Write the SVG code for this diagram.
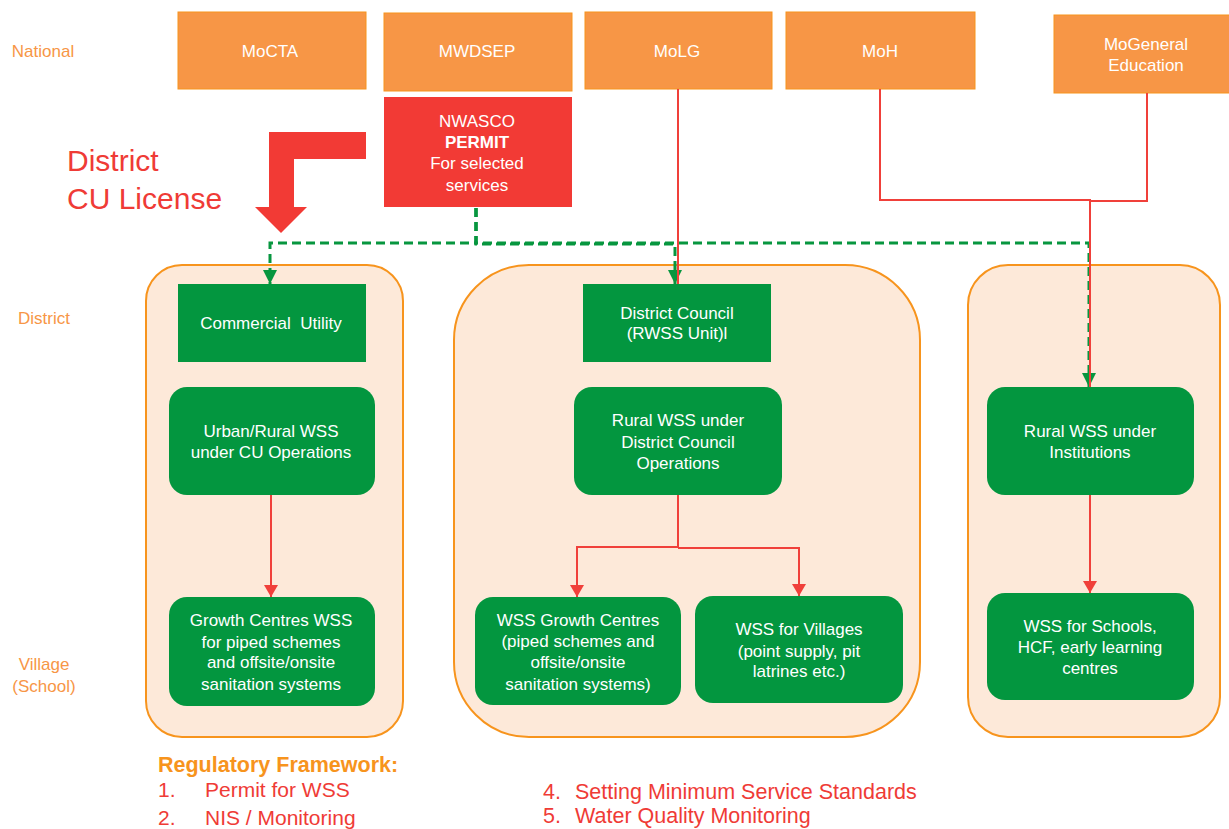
<svg xmlns="http://www.w3.org/2000/svg" width="1229" height="829" viewBox="0 0 1229 829">
<defs>
<style>
text{font-family:"Liberation Sans",Arial,sans-serif}
.nat{fill:#F79646;stroke:#F7941D;stroke-width:1}
.nt{fill:#fff;font-size:17px;text-anchor:middle}
.lvl{fill:#F79646;font-size:17px;text-anchor:middle}
.cont{fill:#FDE9D9;stroke:#F7941D;stroke-width:2}
.g{fill:#03963F}
.red{fill:none;stroke:#F0403A;stroke-width:2}
.grn{fill:none;stroke:#07963F;stroke-width:3;stroke-dasharray:9 5}
.rt{fill:#EF3B36;font-size:21px}
.rt2{fill:#EF3B36;font-size:21.5px}
</style>
<marker id="ra" markerUnits="userSpaceOnUse" markerWidth="12" markerHeight="14" viewBox="0 0 12 14" refX="12" refY="7" orient="auto">
<path d="M0,0 L12,7 L0,14 z" fill="#F0403A"/>
</marker>
<marker id="ga" markerUnits="userSpaceOnUse" markerWidth="14" markerHeight="14" viewBox="0 0 14 14" refX="14" refY="7" orient="auto">
<path d="M0,0 L14,7 L0,14 z" fill="#07963F"/>
</marker>
</defs>
<rect width="1229" height="829" fill="#fff"/>

<g id="level-labels">
<text class="lvl" x="43" y="57">National</text>
<text class="lvl" x="44" y="324">District</text>
<text class="lvl" x="44" y="670">Village</text>
<text class="lvl" x="44" y="692">(School)</text>
</g>

<g id="containers">
<rect class="cont" x="146" y="265" width="257" height="472" rx="36"/>
<rect class="cont" x="454" y="265" width="466" height="472" rx="75"/>
<rect class="cont" x="968" y="265" width="252" height="472" rx="40"/>
</g>

<g id="MoCTA"><rect class="nat" x="178" y="12" width="188" height="77"/><text class="nt" x="270" y="57">MoCTA</text></g>
<g id="MWDSEP"><rect class="nat" x="384" y="13" width="188" height="78"/><text class="nt" x="477" y="57">MWDSEP</text></g>
<g id="MoLG"><rect class="nat" x="585" y="12" width="187" height="77"/><text class="nt" x="677" y="57">MoLG</text></g>
<g id="MoH"><rect class="nat" x="786" y="12" width="189" height="77"/><text class="nt" x="880" y="57">MoH</text></g>
<g id="MoGE"><rect class="nat" x="1054" y="15" width="180" height="78"/><text class="nt" x="1146" y="50">MoGeneral</text><text class="nt" x="1146" y="71">Education</text></g>

<g id="NWASCO">
<rect x="384" y="97" width="188" height="110" fill="#F23A35"/>
<text class="nt" x="477" y="127">NWASCO</text>
<text class="nt" x="477" y="148" font-weight="bold">PERMIT</text>
<text class="nt" x="477" y="169">For selected</text>
<text class="nt" x="477" y="191">services</text>
</g>

<g id="cu-license">
<polygon points="366,132 269,132 269,207 255,207 281,233 307,207 294,207 294,159 366,159" fill="#F23A35"/>
<text x="67" y="171" fill="#EF3B36" font-size="30">District</text>
<text x="67" y="209" fill="#EF3B36" font-size="30">CU License</text>
</g>

<g id="commercial-utility"><rect class="g" x="178" y="284" width="188" height="78"/><text class="nt" x="271" y="329" xml:space="preserve">Commercial  Utility</text></g>
<g id="urban-rural"><rect class="g" x="169" y="387" width="206" height="108" rx="18"/><text class="nt" x="271" y="437">Urban/Rural WSS</text><text class="nt" x="271" y="458">under CU Operations</text></g>
<g id="growth-centres-wss"><rect class="g" x="169" y="597" width="206" height="109" rx="18"/>
<text class="nt" x="271" y="626">Growth Centres WSS</text><text class="nt" x="271" y="648">for piped schemes</text><text class="nt" x="271" y="668">and offsite/onsite</text><text class="nt" x="271" y="690">sanitation  systems</text></g>

<g id="district-council"><rect class="g" x="583" y="284" width="188" height="78"/><text class="nt" x="677" y="319">District Council</text><text class="nt" x="677" y="339">(RWSS Unit)l</text></g>
<g id="rural-dc"><rect class="g" x="574" y="387" width="208" height="108" rx="18"/><text class="nt" x="678" y="426">Rural WSS under</text><text class="nt" x="678" y="448">District Council</text><text class="nt" x="678" y="469">Operations</text></g>
<g id="wss-growth"><rect class="g" x="475" y="597" width="206" height="108" rx="18"/>
<text class="nt" x="578" y="626">WSS Growth  Centres</text><text class="nt" x="578" y="647">(piped schemes and</text><text class="nt" x="578" y="668">offsite/onsite</text><text class="nt" x="578" y="690">sanitation  systems)</text></g>
<g id="wss-villages"><rect class="g" x="695" y="596" width="208" height="107" rx="18"/>
<text class="nt" x="799" y="635">WSS for  Villages</text><text class="nt" x="799" y="657">(point supply, pit</text><text class="nt" x="799" y="677">latrines etc.)</text></g>

<g id="rural-institutions"><rect class="g" x="987" y="387" width="207" height="108" rx="18"/><text class="nt" x="1090" y="437">Rural WSS under</text><text class="nt" x="1090" y="458">Institutions</text></g>
<g id="wss-schools"><rect class="g" x="987" y="593" width="207" height="107" rx="18"/>
<text class="nt" x="1090" y="632">WSS for  Schools,</text><text class="nt" x="1090" y="653">HCF, early  learning</text><text class="nt" x="1090" y="674">centres</text></g>

<g id="connectors">
<path class="grn" d="M476,208 V243 H270 V284" marker-end="url(#ga)"/>
<path class="grn" d="M476,208 V244 H675 V284" marker-end="url(#ga)"/>
<path class="grn" d="M476,208 V243 H1089 V387" marker-end="url(#ga)"/>
<path class="red" d="M678,89 V284"/>
<path class="red" d="M880,89 V200 H1090 V387"/>
<path class="red" d="M1147,93 V201 H1090"/>
<path class="red" d="M271,495 V597" marker-end="url(#ra)"/>
<path class="red" d="M678,495 V547 H577 V597" marker-end="url(#ra)"/>
<path class="red" d="M678,548 H799 V596" marker-end="url(#ra)"/>
<path class="red" d="M1090,495 V593" marker-end="url(#ra)"/>
</g>

<g id="regulatory-framework">
<text x="158" y="772" fill="#F7941D" font-size="21.5" font-weight="bold">Regulatory Framework:</text>
<text class="rt" x="158" y="797">1.</text><text class="rt" x="205" y="797">Permit for WSS</text>
<text class="rt" x="158" y="825">2.</text><text class="rt" x="205" y="825">NIS / Monitoring</text>
<text class="rt2" x="543" y="799">4.</text><text class="rt2" x="575" y="799">Setting Minimum Service Standards</text>
<text class="rt2" x="543" y="823">5.</text><text class="rt2" x="575" y="823">Water Quality Monitoring</text>
</g>
</svg>
